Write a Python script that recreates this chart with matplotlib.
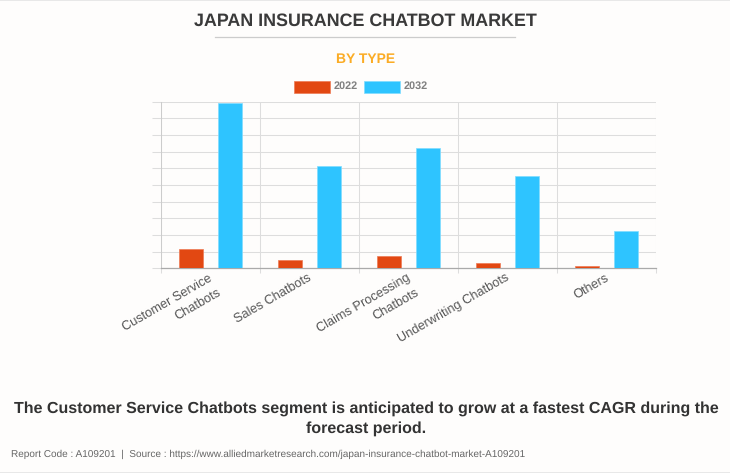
import matplotlib
matplotlib.use("Agg")
import matplotlib.pyplot as plt
import numpy as np
from matplotlib.patches import Rectangle
from matplotlib.lines import Line2D

categories = ["Customer Service\nChatbots", "Sales Chatbots", "Claims Processing\nChatbots", "Underwriting Chatbots", "Others"]
values_2022 = [11.6, 5.0, 7.4, 3.2, 1.3]
values_2032 = [99.0, 61.4, 72.0, 55.4, 22.4]
series_names = ["2022", "2032"]
title = "JAPAN INSURANCE CHATBOT MARKET"
subtitle = "BY TYPE"
headline = "The Customer Service Chatbots segment is anticipated to grow at a fastest CAGR during the\nforecast period."
source = "Report Code : A109201  |  Source : https://www.alliedmarketresearch.com/japan-insurance-chatbot-market-A109201"

W, H = 730, 473
plt.rcParams['font.family'] = ['Liberation Sans', 'DejaVu Sans']
plt.rcParams['text.hinting'] = 'none'
fig = plt.figure(figsize=(W/100, H/100), dpi=100, facecolor="#fefdfc")
L, R, T, B = 161.0, 656.0, 101.7, 268.3
ax = fig.add_axes([L/W, 1-B/H, (R-L)/W, (B-T)/H], facecolor="none")
x = np.arange(len(categories))
c1, c2 = "#e24812", "#2ec4ff"
ax.bar(x-0.2, values_2022, 0.24, color=c1, edgecolor="#ee7a55", linewidth=0.5, zorder=3)
ax.bar(x+0.2, values_2032, 0.24, color=c2, edgecolor="#80dcff", linewidth=0.5, zorder=3)
ax.set_xlim(-0.5, 4.5)
ax.set_ylim(0, 100)
ax.set_yticks(np.arange(0, 101, 10))
ax.set_yticklabels([])
ax.set_xticks(np.arange(-0.5, 5, 1))
ax.set_xticklabels([])
ax.tick_params(axis='y', length=9.5*0.72, width=0.75, color="#dddddd")
ax.tick_params(axis='x', length=5*0.72, width=0.75, color="#dddddd")
ax.grid(True, color="#dddddd", linewidth=0.75, zorder=0)
for s in ["top", "right"]:
    ax.spines[s].set_visible(False)
ax.spines["left"].set_color("#cccccc")
ax.spines["left"].set_linewidth(0.75)
ax.spines["bottom"].set_color("#aaaaaa")
ax.spines["bottom"].set_linewidth(0.9)

for i, c in enumerate(categories):
    ax.annotate(c, (i, 0), xytext=(-1.5, -2.5), textcoords="offset points", rotation=30,
                ha="right", va="top", rotation_mode="anchor", multialignment="right",
                fontsize=9.15, color="#555555", linespacing=1.5, annotation_clip=False)

def t(px, py, s, **kw):
    fig.text(px/W, 1-py/H, s, ha=kw.pop("ha", "center"), va="center", **kw)

t(365.5, 21.5, title, fontsize=12.9, fontweight="bold", color="#3a3a3a")
fig.add_artist(Line2D([215/W, 515/W], [1-37.5/H]*2, color="#cccccc", linewidth=0.9))
t(365.5, 59, subtitle, fontsize=10.0, fontweight="bold", color="#fbac25")
t(366, 418.5, headline, fontsize=11.5, fontweight="bold", color="#333333", linespacing=1.45)
t(11, 454, source, ha="left", fontsize=7.2, color="#666666")

for px, col, edge, name in [(294, c1, "#ee7a55", series_names[0]), (364, c2, "#80dcff", series_names[1])]:
    fig.add_artist(Rectangle((px/W, 1-93.5/H), 36/W, 12.5/H, transform=fig.transFigure,
                             facecolor=col, edgecolor=edge, linewidth=0.5))
    t(px+40, 86.5, name, ha="left", fontsize=7.8, fontweight="bold", color="#808080")

fig.add_artist(Rectangle((0, 1-1.2/H), 1, 1.2/H, transform=fig.transFigure, facecolor="#e8e8e8", edgecolor="none"))
fig.add_artist(Rectangle((0, 0), 1, 1.2/H, transform=fig.transFigure, facecolor="#e8e8e8", edgecolor="none"))
fig.savefig("out.png", dpi=100, facecolor=fig.get_facecolor())
